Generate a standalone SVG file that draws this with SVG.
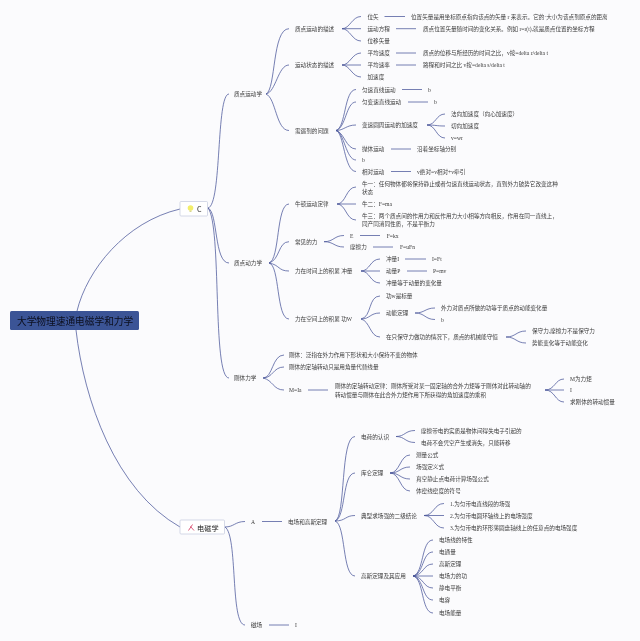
<svg xmlns="http://www.w3.org/2000/svg" width="640" height="641" viewBox="0 0 640 641">
<style>
text{font-family:"Liberation Serif","Noto Sans CJK SC",serif;font-size:5.6px;fill:#3c3c3c;dominant-baseline:central}
svg>g{filter:blur(.2px)}
.c{fill:none;stroke:#4a5599;stroke-width:.75}
.b{fill:#fff;stroke:#c3c9dc;stroke-width:.7}
.m{font-family:"Noto Sans CJK SC","Liberation Sans",sans-serif;font-size:7.2px;fill:#222}
.r{font-family:"Noto Sans CJK SC","Liberation Sans",sans-serif;font-size:9.7px;fill:#0c0f1e}
</style>
<rect width="640" height="641" fill="#fbfbfd"/>
<g id="connectors" class="c">
<path d="M77 311C87 270 125 222 180 209"/>
<path d="M76 330C84 400 115 490 180 527"/>
<path d="M208 208C222 205 216 94 229 94"/>
<path d="M208 208C218 212 214 263 229 263"/>
<path d="M208 208C222 225 212 378 229 378"/>
<path d="M225 527C234 527 235 521.5 245 521.5"/>
<path d="M225 527C238 535 230 625 245 625"/>
<path d="M266 94C276 90 272 28.7 289 28.7"/>
<path d="M266 94C276 92 278 65 289 65"/>
<path d="M266 94C276 98 276 130.5 289 130.5"/>
<path d="M342 28.7C350 28.7 352 16.5 361 16.5"/><path d="M342 28.7H361"/><path d="M342 28.7C350 28.7 352 41 361 41"/>
<path d="M342 65C350 65 352 53 361 53"/><path d="M342 65H361"/><path d="M342 65C350 65 352 77 361 77"/>
<path d="M336 130.5C346 128 344 89.5 356 89.5"/><path d="M336 130.5C346 128 346 102 356 102"/><path d="M336 130.5C344 130.5 346 125 356 125"/><path d="M336 130.5C344 132 346 149 356 149"/><path d="M336 130.5C344 132 346 160 356 160"/><path d="M336 130.5C344 132 344 171.5 356 171.5"/>
<path d="M427 125C436 125 436 114 445 114"/><path d="M427 125C436 125 436 126 445 126"/><path d="M427 125C436 125 436 138 445 138"/>
<path d="M269 263C280 260 276 204 289 204"/><path d="M269 263C280 260 278 241.7 289 241.7"/><path d="M269 263C280 265 278 271 289 271"/><path d="M269 263C280 265 276 319 289 319"/>
<path d="M337 204C346 204 346 187 356 187"/><path d="M337 204H356"/><path d="M337 204C346 204 346 220 356 220"/>
<path d="M324 241.7C334 241.7 334 235.5 344 235.5"/><path d="M324 241.7C334 241.7 334 247 344 247"/>
<path d="M361 271C370 271 370 259 380 259"/><path d="M361 271H380"/><path d="M361 271C370 271 370 283 380 283"/>
<path d="M361 319C372 317 368 296 380 296"/><path d="M361 319C370 319 370 313 380 313"/><path d="M361 319C370 321 370 337 380 337"/>
<path d="M415 313C425 313 425 308 435 308"/><path d="M415 313C425 313 425 319.5 435 319.5"/>
<path d="M506 337C516 337 516 331 526 331"/><path d="M506 337C516 337 516 343 526 343"/>
<path d="M263 378C273 378 272 355 284 355"/><path d="M263 378C273 378 273 367 284 367"/><path d="M263 378C273 380 273 390 284 390"/>
<path d="M545 390C555 390 555 379 564 379"/><path d="M545 390H564"/><path d="M545 390C555 390 555 402 564 402"/>
<path d="M335 521C346 518 340 436.5 355 436.5"/><path d="M335 521C346 518 342 473 355 473"/><path d="M335 521C346 521 345 515.5 355 515.5"/><path d="M335 521C346 524 342 576 355 576"/>
<path d="M396 436.5C405 436.5 405 430.5 415 430.5"/><path d="M396 436.5C405 436.5 405 442.5 415 442.5"/>
<path d="M390 473C400 473 400 455 410 455"/><path d="M390 473C400 473 400 467 410 467"/><path d="M390 473C400 473 400 479 410 479"/><path d="M390 473C400 473 400 491 410 491"/>
<path d="M424 515.5C434 515.5 434 503.5 444 503.5"/><path d="M424 515.5H444"/><path d="M424 515.5C434 515.5 434 528 444 528"/>
<path d="M413 576C424 574 421 540 433 540"/><path d="M413 576C424 574 422 552 433 552"/><path d="M413 576C424 575 423 564 433 564"/><path d="M413 576H433"/><path d="M413 576C424 577 423 588 433 588"/><path d="M413 576C424 578 422 600 433 600"/><path d="M413 576C424 578 421 613 433 613"/>
<path d="M384.500 16.500H405"/><path d="M396 28.700H416"/><path d="M396 53H416"/><path d="M396 65H416"/>
<path d="M402 89.500H422"/><path d="M408 102H428"/><path d="M391 149H411"/><path d="M391 171.500H411"/>
<path d="M360 235.500H380"/><path d="M373 247H393"/><path d="M405 259H426"/><path d="M407 271H427"/>
<path d="M308 390H328"/><path d="M262 521.500H282"/><path d="M269 625H289"/>
</g>
<g id="root"><rect x="10" y="311" width="129" height="19" rx="1.500" fill="#3b5496"/><text class="r" x="17" y="321">大学物理速通电磁学和力学</text></g>
<g id="node-c"><rect class="b" x="180" y="201.500" width="27.500" height="14.500" rx="1"/><circle cx="190.500" cy="208" r="2.800" fill="#f3ee6a"/><rect x="189.500" y="210.500" width="2" height="1.500" fill="#d8d590"/><text class="m" x="197" y="208.500">C</text></g>
<g id="node-em"><rect class="b" x="180" y="520" width="44.500" height="14" rx="1"/><path d="M188.500 530.500L192.500 524.500M190.500 526.500L194 530.500" fill="none" stroke="#d2345c" stroke-width=".8"/><text class="m" x="197" y="527.500">电磁学</text></g>
<g id="mech">
<text x="234" y="94">质点运动学</text><text x="234" y="263">质点动力学</text><text x="234" y="378">刚体力学</text>
<text x="295" y="28.700">质点运动的描述</text>
<text x="367.500" y="16.500">位矢</text>
<text x="411" y="16.500">位置矢量是用坐标原点指向该点的矢量 r 来表示。它的·大小为该点到原点的距离</text>
<text x="367.500" y="28.700">运动方程</text>
<text x="423" y="28.700">质点位置矢量随时间的变化关系。例如 r=r(t),就是质点位置的坐标方程</text>
<text x="367.500" y="41">位移矢量</text>
<text x="295" y="65">运动状态的描述</text>
<text x="367.500" y="53">平均速度</text>
<text x="423" y="53">质点的位移与所经历的时间之比，v按=delta r/delta t</text>
<text x="367.500" y="65">平均速率</text>
<text x="423" y="65">路程和时间之比 v按=delta s/delta t</text>
<text x="367.500" y="77">加速度</text>
<text x="295" y="130.500">需遇到的问题</text>
<text x="362" y="89.500">匀速直线运动</text><text x="428" y="89.500">b</text>
<text x="362" y="102">匀变速直线运动</text><text x="434" y="102">b</text>
<text x="362" y="125">变速圆周运动的加速度</text>
<text x="451" y="114">法向加速度（向心加速度）</text><text x="451" y="126">切向加速度</text><text x="451" y="138">v=wr</text>
<text x="362" y="149">抛体运动</text><text x="417" y="149">沿着坐标轴分别</text>
<text x="362" y="160">b</text>
<text x="362" y="171.500">相对运动</text><text x="417" y="171.500">v绝对=v相对+v牵引</text>
<text x="295" y="204">牛顿运动定律</text>
<text x="362" y="184">牛一：任何物体都将保持静止或者匀速直线运动状态，直到外力破势它改变这种</text><text x="362" y="192">状态</text>
<text x="362" y="204">牛二：F=ma</text>
<text x="362" y="216">牛三：两个质点间的作用力和反作用力大小相等方向相反，作用在同一直线上，</text><text x="362" y="224">同产同消同性质，不是平衡力</text>
<text x="295" y="241.700">常见的力</text>
<text x="350" y="235.500">E</text><text x="386.700" y="235.500">F=kx</text>
<text x="350" y="247">摩擦力</text><text x="400" y="247">F=uFn</text>
<text x="295" y="271">力在时间上的积累 冲量</text>
<text x="386" y="259">冲量I</text><text x="432" y="259">I=Ft</text>
<text x="386" y="271">动量P</text><text x="433" y="271">P=mv</text>
<text x="386" y="283">冲量等于动量的变化量</text>
<text x="295" y="319">力在空间上的积累 功W</text>
<text x="386" y="296">功w是标量</text>
<text x="386" y="313">动能定理</text>
<text x="441" y="308">外力对质点所做的功等于质点的动能变化量</text><text x="441" y="319.500">b</text>
<text x="386" y="337">在只保守力做功的情况下，质点的机械能守恒</text>
<text x="532" y="331">保守力,摩擦力不是保守力</text><text x="532" y="343">势能变化等于动能变化</text>
<text x="289" y="355">刚体：泛指在外力作用下形状和大小保持不变的物体</text>
<text x="289" y="367">刚体的定轴转动只是用角量代替线量</text>
<text x="289" y="390">M=Ia</text>
<text x="335" y="386">刚体的定轴转动定律：刚体所受对某一固定轴的合外力矩等于刚体对此转动轴的</text>
<text x="335" y="395">转动惯量与刚体在此合外力矩作用下所获得的角加速度的乘积</text>
<text x="570" y="379">M为力矩</text><text x="570" y="390">I</text><text x="570" y="402">求刚体的转动惯量</text>
</g>
<g id="em">
<text x="251" y="521.500">A</text>
<text x="288" y="521.500">电场和高斯定理</text>
<text x="251" y="625">磁场</text><text x="295" y="625">I</text>
<text x="361" y="436.500">电荷的认识</text>
<text x="421" y="430.500">摩擦带电的实质是物体间得失电子引起的</text><text x="421" y="442.500">电荷不会凭空产生或消失，只能转移</text>
<text x="361" y="473">库仑定理</text>
<text x="416" y="455">测量公式</text><text x="416" y="467">场强定义式</text><text x="416" y="479">真空静止点电荷计算场强公式</text><text x="416" y="491">体密线密度的符号</text>
<text x="361" y="515.500">典型求场强的二级结论</text>
<text x="450" y="503.500">1.为匀带电直线段的场强</text><text x="450" y="515.500">2.为匀带电圆环轴线上的电场强度</text><text x="450" y="528">3.为匀带电的环形薄圆盘轴线上的任意点的电场强度</text>
<text x="361" y="576">高斯定理及其应用</text>
<text x="439" y="540">电场线的特性</text><text x="439" y="552">电通量</text><text x="439" y="564">高斯定理</text><text x="439" y="576">电场力的功</text><text x="439" y="588">静电平衡</text><text x="439" y="600">电容</text><text x="439" y="613">电场能量</text>
</g>
</svg>
